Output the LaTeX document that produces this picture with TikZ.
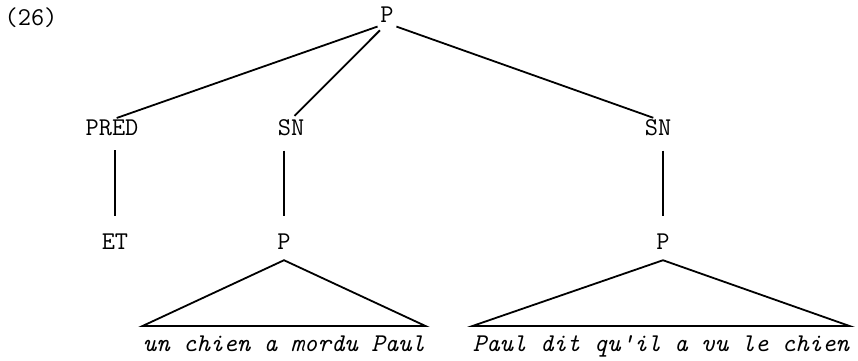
\documentclass[tikz,border=0pt]{standalone}
\begin{document}
\begin{tikzpicture}[x=0.5pt,y=-0.5pt,
  lbl/.style={font=\fontsize{12.8}{15}\selectfont\ttfamily, inner sep=0pt, anchor=center},
  phrase/.style={font=\fontsize{12.8}{15}\selectfont\ttfamily\itshape, inner sep=0pt, anchor=north},
  edge/.style={line width=0.9pt},
  every path/.style={line join=miter}]
\useasboundingbox (0,0) rectangle (858,360);
\node[lbl] (ex) at (31,18) {(26)};
\node[lbl] (P0) at (387,15) {P};
\node[lbl] (PRED) at (112,128) {PRED};
\node[lbl] (SNa) at (291,128) {SN};
\node[lbl] (SNb) at (658,128) {SN};
\node[lbl] (ET) at (115,242) {ET};
\node[lbl] (Pa) at (284,242) {P};
\node[lbl] (Pb) at (663,242) {P};
\node[phrase] (ta) at (284,335) {un chien a mordu Paul};
\node[phrase] (tb) at (661,335) {Paul dit qu'il a vu le chien};
% top branches
\draw[edge, shorten <=5pt, shorten >=2.5pt] (P0.south) -- (PRED.north);
\draw[edge, shorten <=5pt, shorten >=2.5pt] (P0.south) -- (SNa.north);
\draw[edge, shorten <=5pt, shorten >=2.5pt] (P0.south) -- (SNb.north);
% vertical branches
\draw[edge, shorten <=7pt, shorten >=9pt] (ET.north |- PRED.south) -- (ET.north);
\draw[edge, shorten <=7pt, shorten >=9pt] (Pa.north |- SNa.south) -- (Pa.north);
\draw[edge, shorten <=7pt, shorten >=9pt] (Pb.north |- SNb.south) -- (Pb.north);
% triangles
\coordinate (apexa) at ([yshift=-5pt]Pa.south);
\coordinate (apexb) at ([yshift=-5pt]Pb.south);
\draw[edge] (apexa) -- ([yshift=4.5pt]ta.north west) -- ([yshift=4.5pt]ta.north east) -- cycle;
\draw[edge] (apexb) -- ([yshift=4.5pt]tb.north west) -- ([yshift=4.5pt]tb.north east) -- cycle;
\end{tikzpicture}
\end{document}
